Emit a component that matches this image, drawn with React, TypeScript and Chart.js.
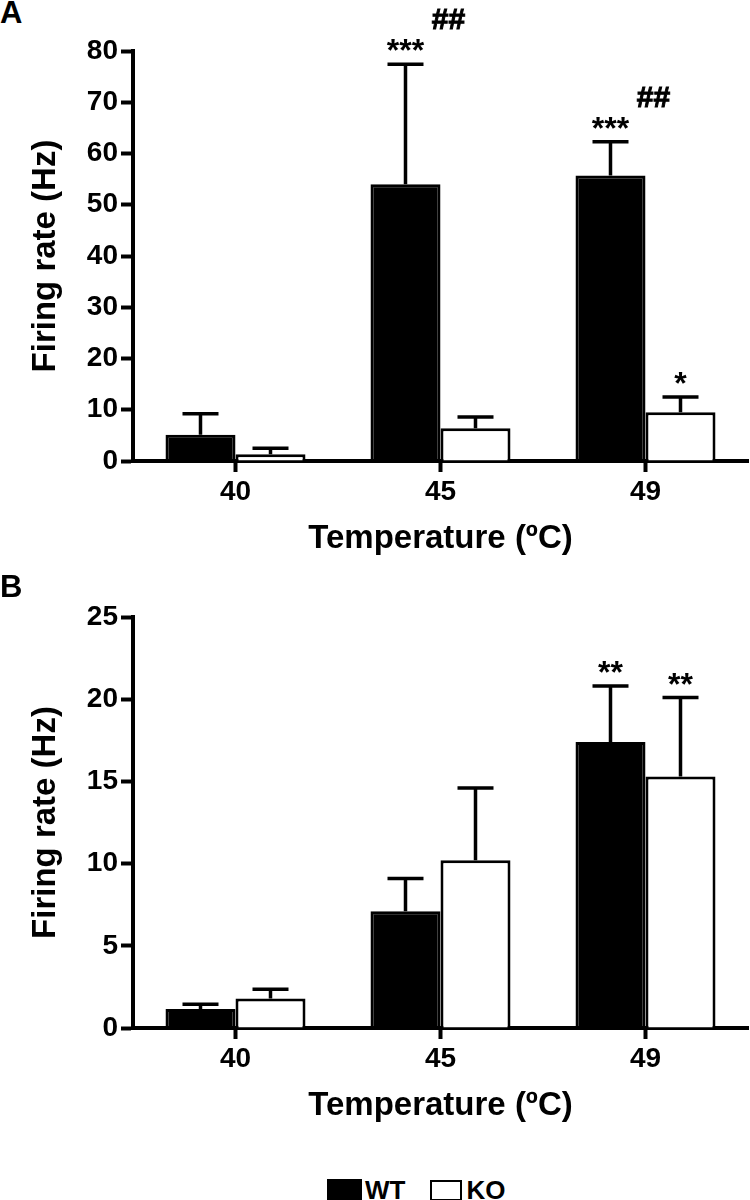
import React, { useEffect, useRef } from "react";
import { Chart, registerables } from "chart.js";

Chart.register(...registerables);

// ---------- data ----------
const temperatures = ["40", "45", "49"];
const seriesNames = ["WT", "KO"];

// Panel A
const wtMeanA = [5.1, 54.0, 55.7];
const wtSemA = [4.1, 23.4, 6.6];
const koMeanA = [1.3, 6.4, 9.5];
const koSemA = [1.2, 2.2, 3.0];
const wtStarsA = ["", "***", "***"];
const wtHashA = ["", "##", "##"];
const koStarsA = ["", "", "*"];
const yTicksA = [0, 10, 20, 30, 40, 50, 60, 70, 80];

// Panel B
const wtMeanB = [1.15, 7.1, 17.4];
const wtSemB = [0.3, 2.0, 3.4];
const koMeanB = [1.8, 10.2, 15.3];
const koSemB = [0.55, 4.4, 4.8];
const wtStarsB = ["", "", "**"];
const koStarsB = ["", "", "**"];
const yTicksB = [0, 5, 10, 15, 20, 25];

const yTitle = "Firing rate (Hz)";
const xTitle = "Temperature (ºC)";

const FONT = "'Liberation Sans', Arial, Helvetica, sans-serif";

// ---------- plugin: error bars + significance marks ----------
const errorBarPlugin = {
  id: "errorBars",
  afterDatasetsDraw(chart: any) {
    const ctx = chart.ctx;
    const yScale = chart.scales.y;
    chart.data.datasets.forEach((ds: any, di: number) => {
      const meta = chart.getDatasetMeta(di);
      meta.data.forEach((bar: any, i: number) => {
        const mean = ds.data[i];
        const sem = ds.sem ? ds.sem[i] : 0;
        const yTop = yScale.getPixelForValue(mean + sem);
        ctx.save();
        ctx.strokeStyle = "#000";
        ctx.lineWidth = 3.5;
        ctx.beginPath();
        ctx.moveTo(bar.x, bar.y);
        ctx.lineTo(bar.x, yTop);
        ctx.moveTo(bar.x - 18, yTop);
        ctx.lineTo(bar.x + 18, yTop);
        ctx.stroke();
        ctx.fillStyle = "#000";
        ctx.textAlign = "center";
        ctx.textBaseline = "alphabetic";
        const star = ds.stars ? ds.stars[i] : "";
        if (star) {
          ctx.font = `bold 32px ${FONT}`;
          ctx.fillText(star, bar.x, yTop - 3);
        }
        const hash = ds.hashes ? ds.hashes[i] : "";
        if (hash) {
          ctx.font = `bold 30px ${FONT}`;
          ctx.lineWidth = 1;
          ctx.strokeStyle = "#000";
          ctx.fillText(hash, bar.x + 43, yTop - 35);
          ctx.strokeText(hash, bar.x + 43, yTop - 35);
        }
        ctx.restore();
      });
    });
  },
};

type PanelProps = {
  top: number;
  height: number;
  padTop: number;
  xAxisHeight: number;
  xTitlePadBottom: number;
  wtMean: number[];
  wtSem: number[];
  koMean: number[];
  koSem: number[];
  wtStars: string[];
  wtHash: string[];
  koStars: string[];
  yTicks: number[];
};

function Panel(p: PanelProps) {
  const ref = useRef<HTMLCanvasElement | null>(null);
  useEffect(() => {
    if (!ref.current) return;
    const yMax = p.yTicks[p.yTicks.length - 1];
    const chart = new Chart(ref.current, {
      type: "bar",
      data: {
        labels: temperatures,
        datasets: [
          {
            label: seriesNames[0],
            data: p.wtMean,
            sem: p.wtSem,
            stars: p.wtStars,
            hashes: p.wtHash,
            backgroundColor: "#000",
            borderColor: "#000",
            borderWidth: 3,
            categoryPercentage: 0.683,
            barPercentage: 1,
          } as any,
          {
            label: seriesNames[1],
            data: p.koMean,
            sem: p.koSem,
            stars: p.koStars,
            backgroundColor: "#fff",
            borderColor: "#000",
            borderWidth: 3,
            categoryPercentage: 0.683,
            barPercentage: 1,
          } as any,
        ],
      },
      options: {
        animation: false,
        responsive: true,
        maintainAspectRatio: false,
        layout: { padding: { top: p.padTop, right: 2, left: 0, bottom: 0 } },
        plugins: {
          legend: { display: false },
          tooltip: { enabled: false },
        },
        scales: {
          x: {
            z: 1,
            offset: true,
            grid: {
              offset: false,
              drawOnChartArea: false,
              color: "#000",
              tickColor: "#000",
              tickWidth: 4,
              tickLength: 11,
            },
            border: { display: true, color: "#000", width: 4 },
            ticks: {
              color: "#000",
              font: { family: FONT, size: 28, weight: "bold" },
              padding: 3,
              maxRotation: 0,
            },
            title: {
              display: true,
              text: xTitle,
              color: "#000",
              font: { family: FONT, size: 33, weight: "bold" },
              padding: { top: 4, bottom: p.xTitlePadBottom },
            },
            afterFit: (s: any) => {
              s.height = p.xAxisHeight;
            },
          },
          y: {
            min: 0,
            max: yMax,
            afterBuildTicks: (s: any) => {
              s.ticks = p.yTicks.map((v) => ({ value: v }));
            },
            grid: {
              drawOnChartArea: false,
              color: "#000",
              tickColor: "#000",
              tickWidth: 4,
              tickLength: 12,
            },
            border: { display: true, color: "#000", width: 4 },
            ticks: {
              color: "#000",
              font: { family: FONT, size: 28, weight: "bold" },
              padding: 3,
            },
            title: {
              display: true,
              text: yTitle,
              color: "#000",
              font: { family: FONT, size: 33, weight: "bold" },
              padding: { top: 26, bottom: 4 },
            },
            afterFit: (s: any) => {
              s.width = 133;
            },
          },
        },
      },
      plugins: [errorBarPlugin],
    } as any);
    return () => chart.destroy();
  }, []);
  return (
    <div
      style={{
        position: "absolute",
        left: 0,
        top: p.top,
        width: 750,
        height: p.height,
      }}
    >
      <canvas ref={ref} />
    </div>
  );
}

export default function App() {
  return (
    <div
      style={{
        position: "fixed",
        left: 0,
        top: 0,
        width: 750,
        height: 1200,
        overflow: "hidden",
        background: "#fff",
        fontFamily: FONT,
      }}
    >
      <div
        style={{
          position: "absolute",
          left: 0,
          top: -3,
          fontSize: 31,
          fontWeight: "bold",
          lineHeight: 1,
        }}
      >
        A
      </div>
      <Panel
        top={0}
        height={570}
        padTop={51}
        xAxisHeight={109}
        xTitlePadBottom={11}
        wtMean={wtMeanA}
        wtSem={wtSemA}
        koMean={koMeanA}
        koSem={koSemA}
        wtStars={wtStarsA}
        wtHash={wtHashA}
        koStars={koStarsA}
        yTicks={yTicksA}
      />
      <div
        style={{
          position: "absolute",
          left: 0,
          top: 571,
          fontSize: 31,
          fontWeight: "bold",
          lineHeight: 1,
        }}
      >
        B
      </div>
      <Panel
        top={570}
        height={570}
        padTop={47}
        xAxisHeight={112}
        xTitlePadBottom={14}
        wtMean={wtMeanB}
        wtSem={wtSemB}
        koMean={koMeanB}
        koSem={koSemB}
        wtStars={wtStarsB}
        wtHash={["", "", ""]}
        koStars={koStarsB}
        yTicks={yTicksB}
      />
      <div
        style={{
          position: "absolute",
          left: 327,
          top: 1177,
          display: "flex",
          alignItems: "center",
          fontSize: 26,
          fontWeight: "bold",
          lineHeight: 1,
          whiteSpace: "nowrap",
        }}
      >
        <span
          style={{
            display: "inline-block",
            width: 35,
            height: 23,
            background: "#000",
          }}
        />
        <span style={{ marginLeft: 3 }}>{seriesNames[0]}</span>
        <span
          style={{
            display: "inline-block",
            width: 28,
            height: 17,
            border: "2px solid #000",
            background: "#fff",
            marginLeft: 25,
          }}
        />
        <span style={{ marginLeft: 4 }}>{seriesNames[1]}</span>
      </div>
    </div>
  );
}
